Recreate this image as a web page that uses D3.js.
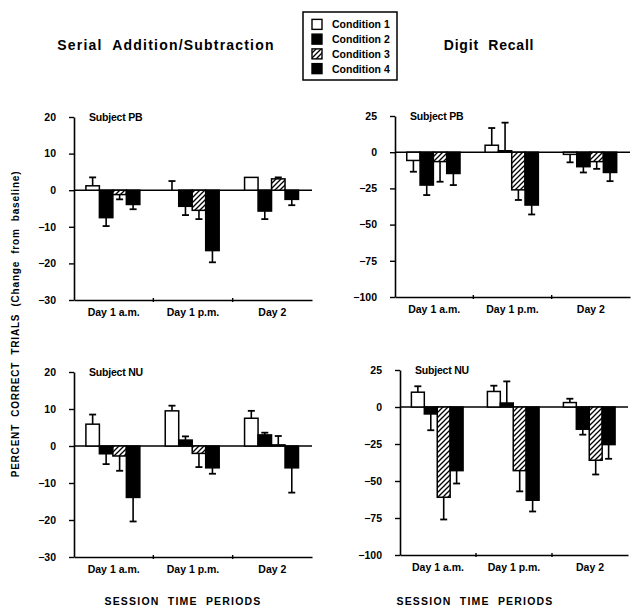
<!DOCTYPE html>
<html>
<head>
<meta charset="utf-8">
<script src="https://cdn.jsdelivr.net/npm/d3@7"></script>
<style>
  body { margin: 0; background: #fff; }
  svg { font-family: "Liberation Sans", Arial, sans-serif; }
</style>
</head>
<body>
<div id="chart"></div>
<script>
// categories
var conditions = ["Condition 1", "Condition 2", "Condition 3", "Condition 4"];
var periods = ["Day 1 a.m.", "Day 1 p.m.", "Day 2"];

// values, one row per period, one column per condition
var serialPB    = [[1.2, -7.5, -1.2, -3.9], [0, -4.4, -5.5, -16.5], [3.5, -5.7, 3.1, -2.5]];
var serialPBErr = [[2.3, 2.3, 1.3, 1.3],   [2.5, 2.4, 2.4, 3.2],   [0, 2.2, 0.4, 1.6]];
var serialNU    = [[5.9, -2.1, -2.7, -13.9], [9.5, 1.6, -2.0, -5.9], [7.5, 3.0, 0.3, -5.9]];
var serialNUErr = [[2.6, 2.8, 4.0, 6.5],    [1.4, 1.0, 3.7, 1.6],   [2.0, 0.6, 2.4, 6.7]];
var digitPB     = [[-5.7, -22.7, -6.5, -14.7], [4.8, 1.0, -26, -36.5], [-1.5, -10, -6.5, -14]];
var digitPBErr  = [[7.8, 6.9, 13.9, 8.0],     [11.9, 19.4, 7, 6.5],   [5.5, 4, 5, 6]];
var digitNU     = [[10, -4.7, -61, -43], [10.5, 2.7, -43, -63], [3, -15, -36, -25.4]];
var digitNUErr  = [[4, 11, 15, 8.7],     [3.9, 14.6, 14, 7.6],  [2.6, 3.7, 9.6, 9.6]];

// tick labels
var serialTicks = [20, 10, 0, -10, -20, -30];
var digitTicks = [25, 0, -25, -50, -75, -100];

var W = 639, H = 614;
var FONT = "Liberation Sans, Arial, sans-serif";

var svg = d3.select("#chart").append("svg")
    .attr("width", W)
    .attr("height", H);

svg.append("rect").attr("width", W).attr("height", H).attr("fill", "#fff");

var defs = svg.append("defs");
var hatch = defs.append("pattern")
    .attr("id", "hatch")
    .attr("patternUnits", "userSpaceOnUse")
    .attr("width", 5)
    .attr("height", 5);
hatch.append("rect").attr("width", 5).attr("height", 5).attr("fill", "#fff");
hatch.append("path")
    .attr("d", "M-1,1 l2,-2 M0,5 l5,-5 M4,6 l2,-2")
    .attr("stroke", "#000")
    .attr("stroke-width", 1.3);

var fills = ["#fff", "#000", "url(#hatch)", "#000"];

var panels = [
  { vals: serialPB, errs: serialPBErr, ticks: serialTicks, subject: "Subject PB", x: [74, 312], y: [117, 300] },
  { vals: digitPB,  errs: digitPBErr,  ticks: digitTicks,  subject: "Subject PB", x: [395, 630], y: [116, 297] },
  { vals: serialNU, errs: serialNUErr, ticks: serialTicks, subject: "Subject NU", x: [74, 312], y: [372, 557] },
  { vals: digitNU,  errs: digitNUErr,  ticks: digitTicks,  subject: "Subject NU", x: [400, 628], y: [370, 555] }
];

panels.forEach(function(p) {
  var g = svg.append("g");

  var y = d3.scaleLinear()
      .domain(d3.extent(p.ticks))
      .range([p.y[1], p.y[0]]);

  var x0 = d3.scaleBand()
      .domain(periods)
      .range(p.x);

  var bw = x0.bandwidth();
  var x1 = d3.scaleBand()
      .domain(conditions)
      .range([bw * 0.15, bw * 0.83]);

  // zero line
  g.append("line")
      .attr("x1", p.x[0]).attr("x2", p.x[1])
      .attr("y1", y(0)).attr("y2", y(0))
      .attr("stroke", "#000").attr("stroke-width", 1.4);

  // bars + error bars
  periods.forEach(function(per, i) {
    conditions.forEach(function(c, j) {
      var v = p.vals[i][j];
      var e = p.errs[i][j];
      var bx = x0(per) + x1(c);
      var w = x1.bandwidth();
      var sign = v < 0 ? -1 : 1;
      var cx = bx + w / 2;

      if (e > 0) {
        g.append("line")
            .attr("x1", cx).attr("x2", cx)
            .attr("y1", y(v)).attr("y2", y(v + sign * e))
            .attr("stroke", "#000").attr("stroke-width", 1.6);
        g.append("line")
            .attr("x1", cx - 3.5).attr("x2", cx + 3.5)
            .attr("y1", y(v + sign * e)).attr("y2", y(v + sign * e))
            .attr("stroke", "#000").attr("stroke-width", 1.8);
      }

      if (v != 0) {
        g.append("rect")
            .attr("x", bx)
            .attr("width", w)
            .attr("y", Math.min(y(v), y(0)))
            .attr("height", Math.abs(y(v) - y(0)))
            .attr("fill", fills[j])
            .attr("stroke", "#000")
            .attr("stroke-width", 1.5);
      }
    });
  });

  // y axis
  var yAxis = g.append("g")
      .attr("transform", "translate(" + p.x[0] + ",0)")
      .call(d3.axisLeft(y).tickValues(p.ticks).tickSize(5).tickPadding(13).tickSizeOuter(0));
  yAxis.select(".domain").attr("stroke-width", 1.6);
  yAxis.selectAll(".tick line").attr("stroke-width", 1.4);
  yAxis.selectAll("text")
      .attr("font-size", 10.5)
      .attr("font-weight", "bold")
      .attr("font-family", FONT);

  // x axis
  var xAxis = g.append("g")
      .attr("transform", "translate(0," + p.y[1] + ")")
      .call(d3.axisBottom(x0).tickSize(0).tickPadding(9).tickSizeOuter(0));
  xAxis.select(".domain").attr("stroke-width", 1.6);
  xAxis.selectAll("text")
      .attr("font-size", 10.5)
      .attr("font-weight", "bold")
      .attr("font-family", FONT);

  // small ticks between the periods
  g.selectAll(".sep")
      .data(periods.slice(1))
      .enter().append("line")
      .attr("x1", function(d) { return x0(d); })
      .attr("x2", function(d) { return x0(d); })
      .attr("y1", p.y[1] - 2).attr("y2", p.y[1] + 2)
      .attr("stroke", "#000").attr("stroke-width", 1.4);

  g.append("text")
      .attr("x", p.x[0] + 15)
      .attr("y", p.y[0] + 4)
      .attr("font-size", 10.5)
      .attr("font-weight", "bold")
      .attr("letter-spacing", -0.2)
      .text(p.subject);
});

// column titles
svg.append("text")
    .attr("x", 166).attr("y", 50)
    .attr("text-anchor", "middle")
    .attr("font-size", 14)
    .attr("font-weight", "bold")
    .attr("letter-spacing", 1.2)
    .attr("xml:space", "preserve")
    .text("Serial  Addition/Subtraction");

svg.append("text")
    .attr("x", 489).attr("y", 50)
    .attr("text-anchor", "middle")
    .attr("font-size", 14)
    .attr("font-weight", "bold")
    .attr("letter-spacing", 0.8)
    .attr("xml:space", "preserve")
    .text("Digit  Recall");

// bottom labels
[183, 475].forEach(function(cx) {
  svg.append("text")
      .attr("x", cx).attr("y", 605)
      .attr("text-anchor", "middle")
      .attr("font-size", 10.5)
      .attr("font-weight", "bold")
      .attr("letter-spacing", 1.2)
      .attr("xml:space", "preserve")
      .text("SESSION  TIME  PERIODS");
});

// y label
svg.append("text")
    .attr("transform", "translate(19,324) rotate(-90)")
    .attr("text-anchor", "middle")
    .attr("font-size", 10)
    .attr("font-weight", "bold")
    .attr("letter-spacing", 0.8)
    .attr("xml:space", "preserve")
    .text("PERCENT  CORRECT  TRIALS  (Change  from  baseline)");

// legend
var leg = svg.append("g");
leg.append("rect")
    .attr("x", 303).attr("y", 12)
    .attr("width", 94).attr("height", 68)
    .attr("fill", "#fff")
    .attr("stroke", "#000")
    .attr("stroke-width", 1.5);

var legRow = d3.scaleBand().domain(conditions).range([17, 76]);
conditions.forEach(function(c, j) {
  leg.append("rect")
      .attr("x", 312)
      .attr("y", legRow(c) + legRow.bandwidth() / 2 - 5)
      .attr("width", 10).attr("height", 10)
      .attr("fill", fills[j])
      .attr("stroke", "#000")
      .attr("stroke-width", 1.4);
  leg.append("text")
      .attr("x", 332)
      .attr("y", legRow(c) + legRow.bandwidth() / 2 + 4)
      .attr("font-size", 10.5)
      .attr("font-weight", "bold")
      .text(c);
});
</script>
</body>
</html>
